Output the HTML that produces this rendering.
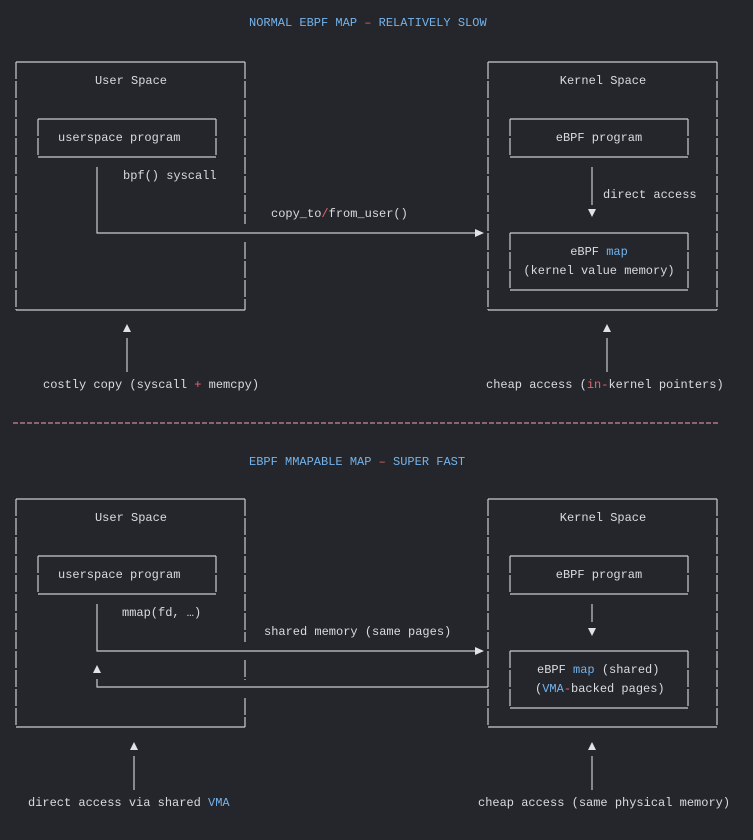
<!DOCTYPE html>
<html><head><meta charset="utf-8"><style>
html,body{margin:0;padding:0;background:#24262b;}
svg{display:block}
text{font-family:"Liberation Mono","DejaVu Sans Mono",monospace;font-size:12px;fill:#d9dbe0;}
.b{fill:#74b3ec}.r{fill:#e06670}
.l{stroke:#c9cbd0;stroke-width:1.2;fill:none;stroke-dasharray:17 2}
.s{stroke:#c9cbd0;stroke-width:1.2;fill:none}
.a{fill:#e0e2e6}
</style></head><body>
<svg width="753" height="840" viewBox="0 0 753 840">
<!-- TOP -->
<text x="249" y="26" class="b">NORMAL EBPF MAP <tspan class="r">–</tspan> RELATIVELY SLOW</text>
<!-- user box -->
<path class="s" d="M16 62H245M16 310H245"/>
<path class="l" d="M16 62V310M245 62V224M245 242V310"/>
<text x="131" y="84" text-anchor="middle">User Space</text>
<path class="s" d="M38 119H216M38 157H216"/>
<path class="l" d="M38 119V157M216 119V157"/>
<text x="58" y="141">userspace program</text>
<text x="123" y="179">bpf() syscall</text>
<path class="s" d="M97 167V233H482"/>
<path class="a" d="M484 233l-9 -4v8z"/>
<text x="271" y="217">copy_to<tspan class="r">/</tspan>from_user()</text>
<!-- kernel box -->
<path class="s" d="M488 62H717M488 310H717"/>
<path class="l" d="M488 62V310M717 62V310"/>
<text x="603" y="84" text-anchor="middle">Kernel Space</text>
<path class="s" d="M510 119H688M510 157H688"/>
<path class="l" d="M510 119V157M688 119V157"/>
<text x="599" y="141" text-anchor="middle">eBPF program</text>
<path class="s" d="M592 167V205"/>
<text x="603" y="198">direct access</text>
<path class="a" d="M588 209h8l-4 8z"/>
<path class="s" d="M510 233H688M510 290H688"/>
<path class="l" d="M510 233V290M688 233V290"/>
<text x="599" y="255" text-anchor="middle">eBPF <tspan class="b">map</tspan></text>
<text x="599" y="274" text-anchor="middle">(kernel value memory)</text>
<!-- bottom arrows -->
<path class="a" d="M127 324l4 8h-8z"/><path class="s" d="M127 338V372"/>
<text x="43" y="388">costly copy (syscall <tspan class="r">+</tspan> memcpy)</text>
<path class="a" d="M607 324l4 8h-8z"/><path class="s" d="M607 338V372"/>
<text x="486" y="388">cheap access (<tspan class="r">in-</tspan>kernel pointers)</text>
<!-- divider -->
<path d="M13 423H720" stroke="#c98a90" stroke-width="1.3" stroke-dasharray="5 2"/>
<!-- BOTTOM -->
<text x="249" y="465" class="b">EBPF MMAPABLE MAP <tspan class="r">–</tspan> SUPER FAST</text>
<path class="s" d="M16 499H245M16 727H245"/>
<path class="l" d="M16 499V727M245 499V642M245 660V680M245 698V727"/>
<text x="131" y="521" text-anchor="middle">User Space</text>
<path class="s" d="M38 556H216M38 594H216"/>
<path class="l" d="M38 556V594M216 556V594"/>
<text x="58" y="578">userspace program</text>
<text x="122" y="616">mmap(fd, …)</text>
<path class="s" d="M97 604V651H482"/>
<path class="a" d="M484 651l-9 -4v8z"/>
<text x="264" y="635">shared memory (same pages)</text>
<path class="a" d="M97 665l4 8h-8z"/>
<path class="s" d="M97 679V687H488"/>
<path class="s" d="M488 499H717M488 727H717"/>
<path class="l" d="M488 499V727M717 499V727"/>
<text x="603" y="521" text-anchor="middle">Kernel Space</text>
<path class="s" d="M510 556H688M510 594H688"/>
<path class="l" d="M510 556V594M688 556V594"/>
<text x="599" y="578" text-anchor="middle">eBPF program</text>
<path class="s" d="M592 604V622"/>
<path class="a" d="M588 628h8l-4 8z"/>
<path class="s" d="M510 651H688M510 708H688"/>
<path class="l" d="M510 651V708M688 651V708"/>
<text x="537" y="673">eBPF <tspan class="b">map</tspan> (shared)</text>
<text x="535" y="692">(<tspan class="b">VMA</tspan><tspan class="r">-</tspan>backed pages)</text>
<path class="a" d="M134 742l4 8h-8z"/><path class="s" d="M134 756V790"/>
<text x="28" y="806">direct access via shared <tspan class="b">VMA</tspan></text>
<path class="a" d="M592 742l4 8h-8z"/><path class="s" d="M592 756V790"/>
<text x="478" y="806">cheap access (same physical memory)</text>
</svg>
</body></html>
